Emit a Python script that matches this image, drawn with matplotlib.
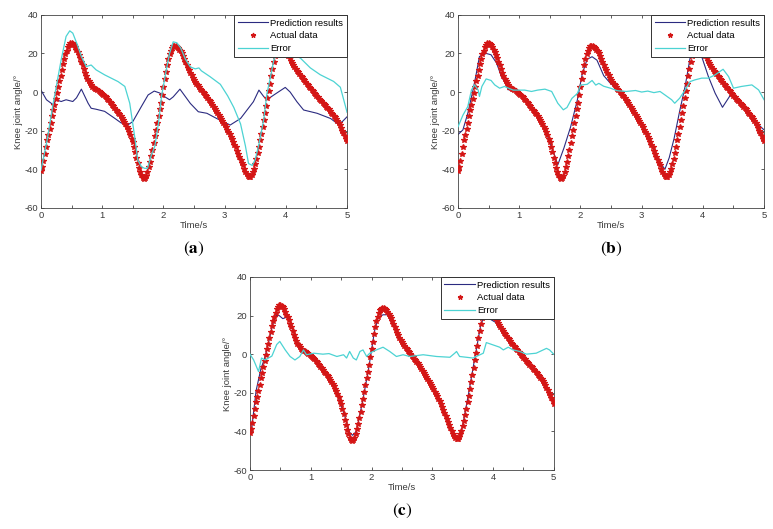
import numpy as np
import matplotlib
matplotlib.use("Agg")
import matplotlib.pyplot as plt

# measured knee angle, sampled every 0.02 s (same in all three panels)
actual = [
    -41.0, -39.0, -35.5, -32.0, -28.5, -25.0, -22.0, -19.0, -16.0, -12.5,
    -9.5, -6.5, -3.5, -0.5, 2.5, 5.5, 8.5, 11.5, 14.5, 17.0,
    19.5, 21.5, 23.2, 24.5, 25.3, 25.5, 25.0, 24.3, 23.3, 22.0,
    20.5, 19.0, 17.5, 15.8, 14.0, 12.0, 10.0, 8.3, 6.8, 5.5,
    4.5, 3.6, 2.8, 2.2, 1.8, 1.4, 0.9, 0.4, -0.1, -0.5,
    -1.0, -1.5, -2.1, -2.7, -3.4, -4.1, -4.9, -5.7, -6.5, -7.4,
    -8.3, -9.1, -9.9, -10.7, -11.5, -12.4, -13.3, -14.4, -15.5, -16.7,
    -17.9, -19.2, -20.7, -22.3, -24.1, -26.0, -28.5, -31.2, -34.0, -36.8,
    -39.3, -41.5, -43.2, -44.4, -45.0, -44.7, -43.5, -41.5, -39.0, -36.0,
    -33.0, -29.8, -26.5, -23.0, -19.5, -16.0, -12.5, -9.0, -5.5, -1.5,
    2.5, 6.5, 10.5, 14.0, 17.0, 19.5, 21.5, 22.8, 23.6, 24.0,
    24.0, 23.5, 22.8, 22.0, 21.0, 20.0, 18.6, 17.2, 15.8, 14.2,
    12.6, 11.2, 9.8, 8.6, 7.4, 6.3, 5.3, 4.3, 3.4, 2.5,
    1.7, 0.9, 0.1, -0.7, -1.5, -2.3, -3.1, -3.9, -4.8, -5.7,
    -6.7, -7.6, -8.6, -9.6, -10.6, -11.7, -12.7, -13.8, -14.9, -16.0,
    -17.1, -18.2, -19.4, -20.6, -21.8, -23.1, -24.4, -25.8, -27.2, -28.7,
    -30.3, -31.9, -33.5, -35.0, -36.5, -38.0, -39.6, -41.2, -42.6, -43.6,
    -44.0, -43.8, -43.0, -41.6, -39.6, -37.2, -34.5, -31.5, -28.3, -25.0,
    -21.6, -18.0, -14.4, -10.7, -7.0, -3.2, 0.6, 4.4, 8.2, 12.0,
    15.5, 18.6, 21.0, 22.8, 24.0, 24.8, 25.0, 24.6, 23.6, 22.3,
    21.0, 19.8, 18.6, 17.4, 16.3, 15.2, 14.1, 13.1, 12.1, 11.1,
    10.2, 9.3, 8.4, 7.6, 6.8, 6.0, 5.2, 4.4, 3.6, 2.8,
    2.0, 1.2, 0.4, -0.4, -1.2, -2.0, -2.7, -3.4, -4.1, -4.8,
    -5.5, -6.2, -6.9, -7.6, -8.3, -9.0, -9.8, -10.6, -11.4, -12.2,
    -13.0, -14.0, -15.0, -16.1, -17.3, -18.6, -20.0, -21.4, -22.8, -24.2,
    -25.6,
]
t_actual = np.linspace(0, 5, len(actual))

# panel (a)
pred_a_t = [0, 0.09, 0.2, 0.25, 0.33, 0.41, 0.52, 0.58, 0.66, 0.77,
            0.82, 0.9, 1.04, 1.2, 1.31, 1.42, 1.5, 1.64, 1.75, 1.85,
            1.94, 2.0, 2.1, 2.16, 2.27, 2.44, 2.57, 2.71, 2.87, 3.09,
            3.26, 3.47, 3.56, 3.64, 3.69, 3.8, 3.99, 4.07, 4.18, 4.29,
            4.51, 4.73, 4.84, 4.92, 5.0]
pred_a = [1, -4, -6.6, -4, -4.9, -4, -4.9, -3, 1.5, -5.8,
          -8.4, -8.9, -10, -13.5, -16, -17, -15.3, -7.5, -1.5, 0.5,
          -0.5, -2, -4, -2.5, 1.5, -5.9, -10.2, -11, -13.7, -17.1,
          -13.7, -5, 1, -2.4, -4, -1.6, 2.4, 0, -5, -9.3,
          -11, -13.7, -16.3, -15.4, -12.8]
err_a_t = [0, 0.1, 0.2, 0.33, 0.41, 0.47, 0.52, 0.6, 0.66, 0.74,
           0.82, 0.9, 1.04, 1.26, 1.37, 1.45, 1.53, 1.58, 1.64, 1.69,
           1.74, 1.8, 1.86, 1.92, 1.97, 2.05, 2.1, 2.16, 2.22, 2.28,
           2.36, 2.44, 2.52, 2.58, 2.62, 2.76, 2.93, 3.05, 3.15, 3.26,
           3.34, 3.39, 3.45, 3.5, 3.56, 3.64, 3.69, 3.75, 3.8, 3.86,
           3.92, 4.0, 4.13, 4.24, 4.4, 4.56, 4.78, 4.89, 5.0]
err_a = [-40.5, -25, -5.8, 16.7, 28.8, 31.7, 30.5, 24, 18.4, 13.2,
         14, 11.5, 8.9, 5.4, 2.9, -5.8, -23, -35, -38.6, -39.5,
         -39.5, -33, -28, -16, -2, 12, 20, 26, 25.5, 23,
         17, 13, 12, 12.5, 11, 8, 4, -2, -8, -16.5,
         -28, -37, -38, -35, -27, -14, -1, 8, 16, 24,
         26, 20, 19.5, 17.5, 12.5, 9, 5.5, 2.5, -10.5]

# panel (b)
pred_b_t = [0, 0.08, 0.16, 0.245, 0.3, 0.35, 0.46, 0.54, 0.63, 0.71,
            0.79, 0.82, 0.86, 0.9, 0.95, 1.0, 1.1, 1.2, 1.3, 1.4,
            1.5, 1.58, 1.63, 1.73, 1.84, 1.95, 2.03, 2.11, 2.19, 2.27,
            2.38, 2.49, 2.6, 2.7, 2.8, 2.9, 3.0, 3.1, 3.2, 3.3,
            3.38, 3.45, 3.53, 3.62, 3.71, 3.79, 3.86, 3.93, 3.98, 4.09,
            4.2, 4.32, 4.47, 4.63, 4.8, 4.91, 5.0]
pred_b = [-22, -19.6, -11, 1, 9.8, 18.4, 20, 19.3, 15, 8,
          3.7, 1.1, 2.5, 0.5, 0.3, -1, -3.5, -7.5, -11.5, -17.5,
          -26, -33, -37.7, -29, -18, -4, 9.5, 17, 18.3, 16.5,
          8.5, 4.5, 1.5, -2.3, -6.7, -11.7, -17, -23, -30, -36.5,
          -40, -34, -24, -10, 3, 17.5, 20.5, 20.5, 18.4, 8,
          -0.6, -7.9, -0.6, -5.8, -14.4, -17, -19.6]
err_b_t = [0, 0.08, 0.16, 0.22, 0.27, 0.33, 0.35, 0.39, 0.46, 0.54,
           0.6, 0.68, 0.76, 0.9, 1.09, 1.2, 1.3, 1.42, 1.53, 1.63,
           1.72, 1.78, 1.86, 1.95, 2.0, 2.11, 2.19, 2.25, 2.3, 2.38,
           2.49, 2.6, 2.75, 2.9, 3.0, 3.1, 3.2, 3.3, 3.38, 3.49,
           3.54, 3.62, 3.71, 3.79, 3.87, 3.98, 4.09, 4.2, 4.33, 4.42,
           4.5, 4.63, 4.8, 4.91, 5.0]
err_b = [-18, -12, -7.5, 1.1, 3.7, 1, -2.3, 2.9, 6.8, 6,
         3.7, 2, 2.9, 1, 1, 0.3, 1, 1.5, 0.3, -5.8,
         -9.2, -8, -3.3, -0.7, 3.6, 4, 6, 3.6, 4.5, 3,
         2, 0.7, 0.3, 0.8, 0, 0.5, -0.3, 0.3, -1.5, -4,
         -5.8, -3.2, 1.1, 5.4, 6.3, 7.2, 7.2, 8.9, 11.8, 8,
         2, 2.9, 3.7, 1.1, -4]

# panel (c)
pred_c_t = [0, 0.03, 0.1, 0.18, 0.24, 0.32, 0.37, 0.43, 0.48, 0.54,
            0.62, 0.67, 0.75, 0.85, 1.0, 1.2, 1.4, 1.55, 1.64, 1.69,
            1.75, 1.85, 1.95, 2.05, 2.11, 2.19, 2.26, 2.4, 2.6, 2.8,
            3.0, 3.2, 3.35, 3.44, 3.5, 3.6, 3.7, 3.8, 3.88, 3.97,
            4.11, 4.27, 4.44, 4.6, 4.77, 4.93, 5.0]
pred_c = [-41, -38, -19, -7.5, -2.3, 8, 15, 20, 20, 18.4,
          19.3, 16.7, 8.3, 2.2, -1, -8.3, -17.9, -31, -40.5, -42,
          -40, -25, -8, 12, 19, 20.4, 20.4, 12.6, 1.7, -6.7,
          -17.1, -30.3, -41.5, -44.5, -37, -20, -2, 15.5, 21, 17.8,
          15.2, 5.7, 0.5, -5.5, -10.5, -20.5, -25.4]
err_c_t = [0, 0.06, 0.14, 0.19, 0.25, 0.36, 0.44, 0.49, 0.58, 0.66,
           0.74, 0.82, 0.88, 0.93, 1.05, 1.2, 1.3, 1.43, 1.54, 1.59,
           1.64, 1.7, 1.75, 1.81, 1.86, 1.92, 1.97, 2.08, 2.19, 2.3,
           2.41, 2.52, 2.63, 2.85, 3.07, 3.29, 3.37, 3.4, 3.45, 3.67,
           3.84, 3.89, 4.0, 4.11, 4.17, 4.25, 4.33, 4.44, 4.55, 4.71,
           4.88, 4.93, 5.0]
err_c = [0, -3, -9, -2, -3, -1, 5, 6.6, 2.2, -1.2,
         -3, -1.2, 2.2, -0.3, 0.5, 0, 0.3, -1.2, -0.3, -2,
         1.4, -2, -3, 1.4, 2.2, -1.2, 0.5, 2.2, 3.6, 1.4,
         -1.2, -0.3, -1.2, -0.3, -1.2, -1.6, 0.5, 1.4, -1.2, -2,
         0.5, 6, 4.8, 3.6, 2.2, 3.6, 2.2, 1.4, 0, 0.5,
         3, 2.2, 0]

panel_labels = ["a", "b", "c"]
x_ticks = [0, 1, 2, 3, 4, 5]
y_ticks = [-60, -40, -20, 0, 20, 40]

plt.rcParams["font.family"] = ["Liberation Sans", "DejaVu Sans"]
plt.rcParams["mathtext.fontset"] = "stix"
plt.rcParams["axes.unicode_minus"] = False

fig = plt.figure(figsize=(7.73, 5.29), dpi=100)
boxes = [
    [0.053, 0.607, 0.396, 0.365],
    [0.5925, 0.607, 0.396, 0.365],
    [0.3234, 0.1115, 0.393, 0.365],
]
series = [
    (pred_a_t, pred_a, err_a_t, err_a),
    (pred_b_t, pred_b, err_b_t, err_b),
    (pred_c_t, pred_c, err_c_t, err_c),
]

fs = 6.8
for box, (pt, pv, et, ev), lab in zip(boxes, series, panel_labels):
    ax = fig.add_axes(box)
    ax.plot(pt, pv, color="#2b2b80", lw=0.8, label="Prediction results", zorder=2)
    ax.plot(t_actual, actual, ls="none", marker="*", ms=4.2, mew=0.9,
            color="#d41616", label="Actual data", zorder=3)
    ax.plot(et, ev, color="#4cd3d3", lw=0.9, label="Error", zorder=4)

    ax.set_xlim(0, 5)
    ax.set_ylim(-60, 40)
    ax.set_xticks(x_ticks)
    ax.set_xticks(np.arange(0.5, 5, 1.0), minor=True)
    ax.set_yticks(y_ticks)
    ax.tick_params(which="both", direction="in", top=True, right=True,
                   length=2.5, width=0.6, color="#444444",
                   labelsize=fs, labelcolor="#3a3a3a", pad=2)
    for s in ax.spines.values():
        s.set_linewidth(0.6)
        s.set_color("#444444")
    ax.set_xlabel("Time/s", fontsize=fs, color="#3a3a3a", labelpad=1)
    ax.set_ylabel("Knee joint angle/°", fontsize=fs, color="#3a3a3a", labelpad=1)

    leg = ax.legend(loc="upper right", borderaxespad=0, fontsize=fs,
                    numpoints=1, handlelength=3.2, handletextpad=0.25,
                    labelspacing=0.4, borderpad=0.4, fancybox=False,
                    framealpha=1, edgecolor="#333333")
    leg.get_frame().set_linewidth(0.7)
    leg.set_zorder(10)
    leg.legend_handles[1].set_markersize(3.5)

    cx = box[0] + box[2] / 2
    fig.text(cx, box[1] - 0.077, r"($\mathbf{%s}$)" % lab, fontsize=12.5,
             family="STIXGeneral", ha="center", va="center")

fig.savefig("out.png", dpi=100)
